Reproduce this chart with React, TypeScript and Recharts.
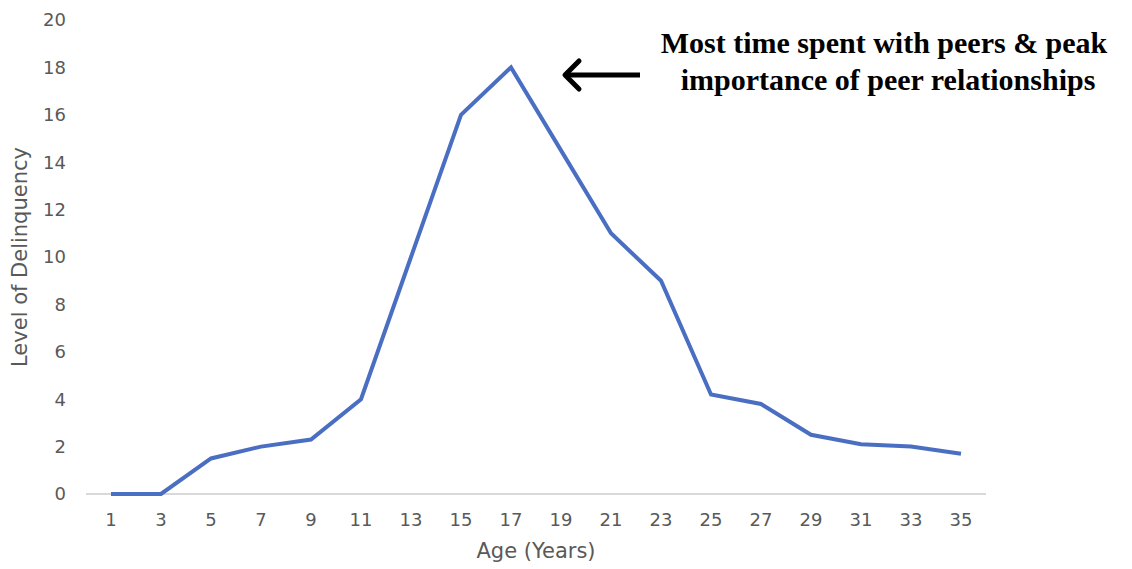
import { LineChart, Line, XAxis, YAxis, CartesianGrid } from "recharts";

const ages = ["1", "3", "5", "7", "9", "11", "13", "15", "17", "19", "21", "23", "25", "27", "29", "31", "33", "35"];
const delinquency = [0, 0, 1.5, 2, 2.3, 4, 10, 16, 18, 14.5, 11, 9, 4.2, 3.8, 2.5, 2.1, 2, 1.7];
const yTicks = [0, 2, 4, 6, 8, 10, 12, 14, 16, 18, 20];

const data = ages.map((age, i) => ({ age, level: delinquency[i] }));

const font = "DejaVu Sans, Arial, sans-serif";
const tickStyle = { fontFamily: font, fontSize: 18, fill: "#595959" };

const App = () => {
  return (
    <div style={{ position: "absolute", left: 0, top: 0, width: 1132, height: 569, background: "#fff" }}>
      <LineChart width={1132} height={569} data={data} margin={{ top: 20, right: 146, bottom: 35, left: 0 }}>
        {/* only the zero baseline, kept behind the series */}
        <CartesianGrid vertical={false} horizontalValues={[0]} stroke="#d9d9d9" strokeWidth={2} />
        <XAxis
          dataKey="age"
          padding={{ left: 25, right: 25 }}
          tick={tickStyle}
          tickLine={false}
          tickMargin={13}
          axisLine={false}
          height={40}
          interval={0}
          label={{
            value: "Age (Years)",
            position: "bottom",
            offset: 9,
            style: { fontFamily: font, fontSize: 21, fill: "#595959" },
          }}
        />
        <YAxis
          domain={[0, 20]}
          ticks={yTicks}
          width={86}
          tick={tickStyle}
          tickLine={false}
          tickMargin={14}
          axisLine={false}
          label={{
            value: "Level of Delinquency",
            angle: -90,
            position: "insideLeft",
            offset: 20,
            style: { textAnchor: "middle", fontFamily: font, fontSize: 21, fill: "#595959" },
          }}
        />
        <Line
          type="linear"
          dataKey="level"
          stroke="#4a6fc2"
          strokeWidth={4}
          dot={false}
          activeDot={false}
          isAnimationActive={false}
        />
      </LineChart>
      <svg width={1132} height={569} style={{ position: "absolute", left: 0, top: 0, pointerEvents: "none" }}>
        <line x1={566} y1={75} x2={640} y2={75} stroke="#000" strokeWidth={5} />
        <polyline points="579,61 565,75 579,89" fill="none" stroke="#000" strokeWidth={5} strokeLinecap="round" strokeLinejoin="round" />
        <text
          textAnchor="middle"
          style={{ fontFamily: "Liberation Serif, Times New Roman, serif", fontWeight: "bold", fontSize: 30, fill: "#000" }}
        >
          <tspan x={884} y={53}>Most time spent with peers &amp; peak</tspan>
          <tspan x={888} y={90}>importance of peer relationships</tspan>
        </text>
      </svg>
    </div>
  );
};

export default App;
